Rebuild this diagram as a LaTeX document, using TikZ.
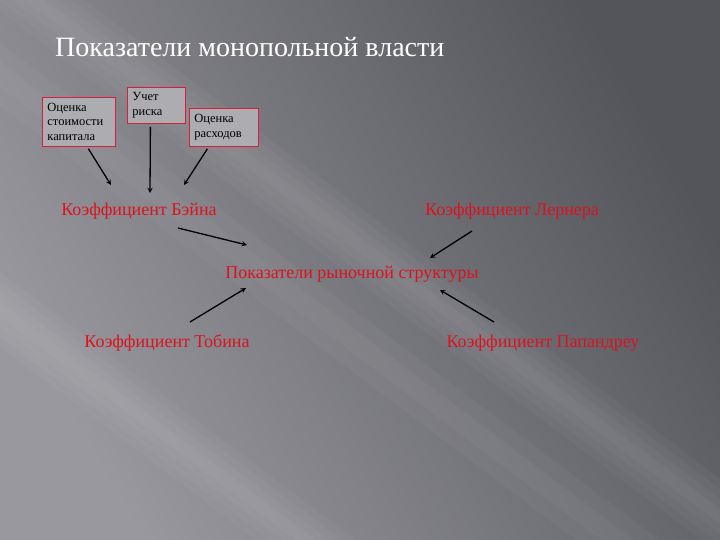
\documentclass[tikz,border=0pt]{standalone}
\usepackage{fontspec}
\setmainfont{Liberation Serif}
\usetikzlibrary{arrows,calc}
\definecolor{bglight}{RGB}{152,152,158}
\definecolor{bgdark}{RGB}{84,84,91}
\definecolor{krasn}{RGB}{222,18,30}
\definecolor{ramka}{RGB}{215,30,60}
\definecolor{boxfill}{RGB}{172,172,177}
\tikzset{
  koef/.style={text=krasn,font=\fontsize{18}{21}\selectfont,inner sep=2pt},
  malbox/.style={draw=ramka,fill=boxfill,line width=0.8pt,align=left,anchor=north west,
    font=\fontsize{12.5}{14.5}\selectfont,inner xsep=5pt,inner ysep=2pt},
  strelka/.style={-stealth,line width=1.3pt,black},
  polosa/.style={white,opacity=0.03}
}

\begin{document}
\begin{tikzpicture}[x=1pt,y=-1pt]
\useasboundingbox (0,0) rectangle (720,540);
\shade[left color=bglight,right color=bgdark,shading angle=120] (0,0) rectangle (720,540);
\begin{scope}
\clip (0,0) rectangle (720,540);
\foreach \w in {6,14,22,30}
  \fill[polosa,rotate around={-37:(340,230)}] (-600,230-\w) rectangle (1300,230+\w);
\foreach \w in {6,14,22,30}
  \fill[polosa,rotate around={-37:(120,400)}] (-800,400-\w) rectangle (1100,400+\w);
\foreach \w in {10,25}
  \fill[polosa,rotate around={-37:(100,150)}] (-800,150-\w) rectangle (1100,150+\w);
\end{scope}

\node[anchor=base west,text=white,font=\fontsize{28}{32}\selectfont,inner sep=0pt] (title) at (55,57) {Показатели монопольной власти};

\node[malbox,text width=63pt,minimum height=49pt] (kapital) at (42,97) {Оценка\\стоимости\\капитала};
\node[malbox,text width=48pt,minimum height=36pt] (risk) at (127,87) {Учет\\риска};
\node[malbox,text width=59pt,minimum height=38pt] (rashod) at (189,108) {Оценка\\расходов};

\node[koef] (bain) at (139,211) {Коэффициент Бэйна};
\node[koef] (lerner) at (512,211) {Коэффициент Лернера};
\node[koef] (rynok) at (352,274) {Показатели рыночной структуры};
\node[koef] (tobin) at (167,343) {Коэффициент Тобина};
\node[koef] (papandreu) at (543,343) {Коэффициент Папандреу};

\draw[strelka] ([shift={(9.5,2)}]kapital.south) -- ([shift={(-28,-26)}]bain.center);
\draw[strelka] ([shift={(-6,3)}]risk.south) -- ([shift={(11,-18)}]bain.center);
\draw[strelka] ([shift={(-16.5,2)}]rashod.south) -- ([shift={(45,-26)}]bain.center);
\draw[strelka] ([shift={(39,17)}]bain.center) -- ([shift={(-105,-29)}]rynok.center);
\draw[strelka] ([shift={(-40,20)}]lerner.center) -- ([shift={(78,-16)}]rynok.center);
\draw[strelka] ([shift={(23,-21)}]tobin.center) -- ([shift={(-106,14)}]rynok.center);
\draw[strelka] ([shift={(-49,-21)}]papandreu.center) -- ([shift={(88,16)}]rynok.center);
\end{tikzpicture}
\end{document}
